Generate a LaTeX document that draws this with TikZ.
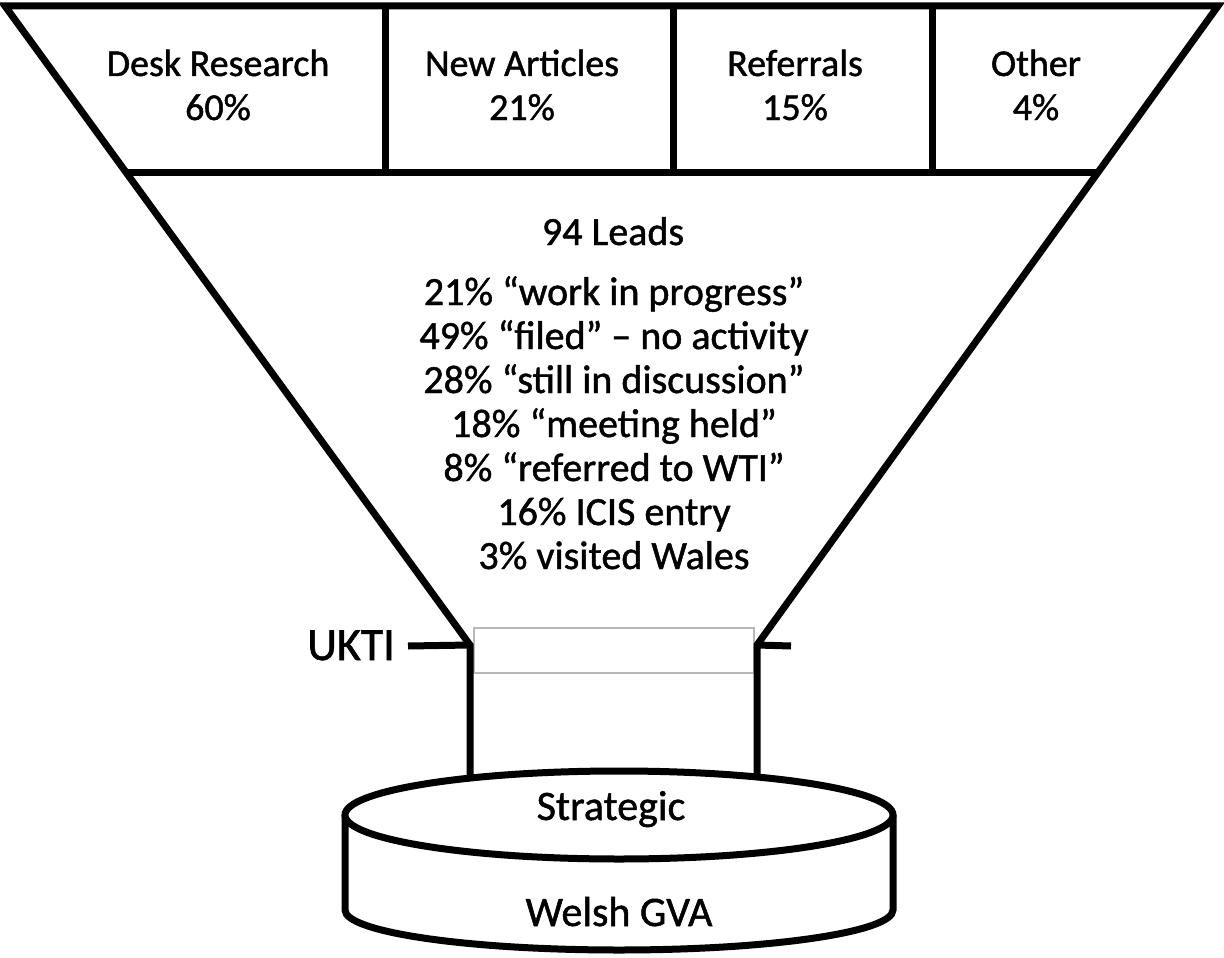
\documentclass[tikz,border=0pt]{standalone}
\usepackage{fontspec}
\setmainfont{Carlito}[FakeBold=1.2]
\usetikzlibrary{calc}
\begin{document}
\begin{tikzpicture}[x=1pt,y=-1pt,line join=miter,
  outline/.style={line width=7pt,draw=black},
  thinframe/.style={line width=1.4pt,draw=black!28},
  toplabel/.style={font=\fontsize{38}{44}\selectfont,anchor=base,inner sep=0pt},
  leadline/.style={font=\fontsize{40}{44}\selectfont,anchor=base,inner sep=0pt},
  drumlabel/.style={font=\fontsize{42}{48}\selectfont,anchor=base,inner sep=0pt},
  sidelabel/.style={font=\fontsize{46}{50}\selectfont,anchor=base east,inner sep=0pt}]
\useasboundingbox (0,0) rectangle (1224,958);

% funnel corners
\coordinate (tl) at (5,6);
\coordinate (tr) at (1218,6);
\coordinate (nl) at (470,645);
\coordinate (nr) at (757,645);
\coordinate (bl) at ($(tl)!{166/639}!(nl)$);
\coordinate (br) at ($(tr)!{166/639}!(nr)$);
\coordinate (nlb) at (470,790);
\coordinate (nrb) at (757,790);
\coordinate (ukl) at (408,646);
\coordinate (ukr) at (791,646);

% thin band inside the neck
\draw[thinframe] (474,628) rectangle (754,673);

% funnel outline with neck
\draw[outline] (nlb) -- (nl) -- (tl) -- (tr) -- (nr) -- (nrb);
\draw[outline] (bl) -- (br);
\foreach \dx in {385,673,932}{
  \draw[outline] (\dx,6) -- (\dx,172);
}
% UKTI stubs
\draw[outline] (ukl) -- (nl);
\draw[outline] (nr) -- (ukr);

% drum at the bottom
\draw[outline,fill=white] (345,815) -- (345,910)
  arc[start angle=180,end angle=0,x radius=274,y radius=40] -- (893,815);
\draw[outline,fill=white] (619,815) ellipse[x radius=274,y radius=44];

% source categories
\node[toplabel] (desk) at (218,76) {Desk Research};
\node[toplabel] (deskp) at (218,120) {60\%};
\node[toplabel] (news) at (522,76) {New Articles};
\node[toplabel] (newsp) at (522,120) {21\%};
\node[toplabel] (refs) at (795,76) {Referrals};
\node[toplabel] (refsp) at (795,120) {15\%};
\node[toplabel] (other) at (1036,76) {Other};
\node[toplabel] (otherp) at (1036,120) {4\%};

% lead statistics
\node[leadline] (leads) at (613,245) {94 Leads};
\node[leadline] (s1) at (614,305) {21\% “work in progress”};
\node[leadline] (s2) at (614,349) {49\% “filed” – no activity};
\node[leadline] (s3) at (614,393) {28\% “still in discussion”};
\node[leadline] (s4) at (614,437) {18\% “meeting held”};
\node[leadline] (s5) at (614,481) {8\% “referred to WTI”};
\node[leadline] (s6) at (614,525) {16\% ICIS entry};
\node[leadline] (s7) at (614,569) {3\% visited Wales};

\node[sidelabel] (ukti) at (395,660) {UKTI};

\node[drumlabel] (strat) at (611,820) {Strategic};
\node[drumlabel] (gva) at (619,926) {Welsh GVA};
\end{tikzpicture}
\end{document}
